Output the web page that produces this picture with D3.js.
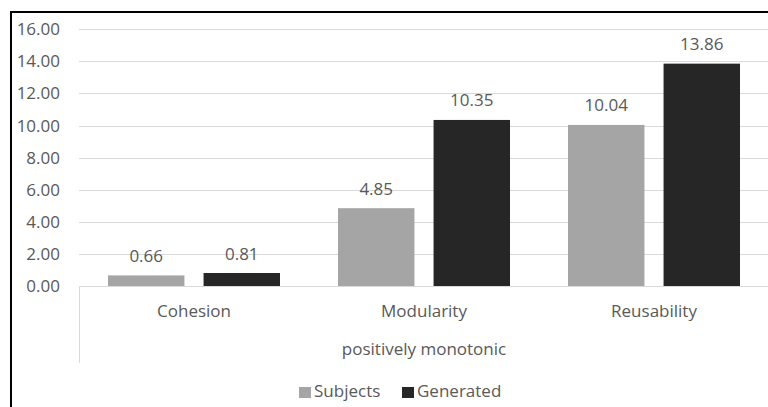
<!DOCTYPE html>
<html>
<head>
<meta charset="utf-8">
<script src="https://cdn.jsdelivr.net/npm/d3@7"></script>
<style>
  html, body { margin: 0; padding: 0; background: #fff; }
  svg { display: block; font-family: "Open Sans", "Noto Sans", sans-serif; }
</style>
</head>
<body>
<svg id="chart" width="768" height="407"></svg>
<script>
// Metrics and their scores for the two series
const categories = ["Cohesion", "Modularity", "Reusability"];
const seriesNames = ["Subjects", "Generated"];
const subjectsValues = [0.66, 4.85, 10.04];
const generatedValues = [0.81, 10.35, 13.86];
const yTicks = [0, 2, 4, 6, 8, 10, 12, 14, 16];
const groupLabel = "positively monotonic";

const colors = { Subjects: "#a5a5a5", Generated: "#262626" };
const textColor = "#595959";
const fontSize = 17;

const svg = d3.select("#chart");
const W = 768, H = 407;

// Frame lines on the left and top
svg.append("line").attr("x1", 11).attr("x2", 11).attr("y1", 11).attr("y2", H)
  .attr("stroke", "#000").attr("stroke-width", 2);
svg.append("line").attr("x1", 10).attr("x2", W).attr("y1", 12).attr("y2", 12)
  .attr("stroke", "#000").attr("stroke-width", 2);

const plot = { left: 79, right: 769, top: 29.3, bottom: 286 };

const x0 = d3.scaleBand().domain(categories).range([plot.left, plot.right]).paddingInner(0).paddingOuter(0);
const x1 = d3.scaleBand().domain(seriesNames).range([29, x0.bandwidth() - 29]).paddingInner(0.2).paddingOuter(0);
const y = d3.scaleLinear().domain([0, 16]).range([plot.bottom, plot.top]);

// Horizontal gridlines
svg.append("g").selectAll("line").data(yTicks.filter(t => t > 0)).join("line")
  .attr("x1", plot.left).attr("x2", W)
  .attr("y1", d => Math.round(y(d)) + 0.5).attr("y2", d => Math.round(y(d)) + 0.5)
  .attr("stroke", "#d9d9d9").attr("stroke-width", 1);

// Y axis labels
const yAxis = d3.axisLeft(y).tickValues(yTicks).tickFormat(d3.format(".2f")).tickSize(0).tickPadding(0);
const yg = svg.append("g").attr("transform", "translate(60,0)").call(yAxis);
yg.select(".domain").remove();
yg.selectAll("text").attr("fill", textColor).attr("font-size", fontSize)
  .attr("font-family", "'Open Sans', sans-serif");

// Bars
const rows = categories.map((c, i) => ({ category: c, values: [
  { series: "Subjects", value: subjectsValues[i] },
  { series: "Generated", value: generatedValues[i] }
]}));

const groups = svg.append("g").selectAll("g").data(rows).join("g")
  .attr("transform", d => `translate(${x0(d.category)},0)`);

groups.selectAll("rect").data(d => d.values).join("rect")
  .attr("x", d => x1(d.series))
  .attr("width", x1.bandwidth())
  .attr("y", d => y(d.value))
  .attr("height", d => y(0) - y(d.value))
  .attr("fill", d => colors[d.series]);

groups.selectAll("text.val").data(d => d.values).join("text")
  .attr("class", "val")
  .attr("x", d => x1(d.series) + x1.bandwidth() / 2)
  .attr("y", d => y(d.value) - 13.5)
  .attr("text-anchor", "middle")
  .attr("fill", textColor).attr("font-size", fontSize)
  .text(d => d3.format(".2f")(d.value));

// Category axis line and outer separator
svg.append("line").attr("x1", plot.left).attr("x2", W)
  .attr("y1", plot.bottom + 0.5).attr("y2", plot.bottom + 0.5)
  .attr("stroke", "#d9d9d9").attr("stroke-width", 1);
svg.append("line").attr("x1", plot.left + 0.5).attr("x2", plot.left + 0.5)
  .attr("y1", plot.bottom).attr("y2", 363)
  .attr("stroke", "#d9d9d9").attr("stroke-width", 1);

// Category labels
svg.append("g").selectAll("text").data(categories).join("text")
  .attr("x", d => x0(d) + x0.bandwidth() / 2)
  .attr("y", 317)
  .attr("text-anchor", "middle")
  .attr("fill", textColor).attr("font-size", fontSize)
  .text(d => d);

// Group label spanning all categories
svg.append("text")
  .attr("x", (plot.left + plot.right) / 2)
  .attr("y", 355)
  .attr("text-anchor", "middle")
  .attr("fill", textColor).attr("font-size", fontSize)
  .text(groupLabel);

// Legend
const legendItems = [
  { name: "Subjects", x: 299 },
  { name: "Generated", x: 402 }
];
const lg = svg.append("g").selectAll("g").data(legendItems).join("g")
  .attr("transform", d => `translate(${d.x},0)`);
lg.append("rect").attr("x", 0).attr("y", 387).attr("width", 12).attr("height", 11)
  .attr("fill", d => colors[d.name]);
lg.append("text").attr("x", 15).attr("y", 397)
  .attr("fill", textColor).attr("font-size", fontSize)
  .text(d => d.name);
</script>
</body>
</html>
